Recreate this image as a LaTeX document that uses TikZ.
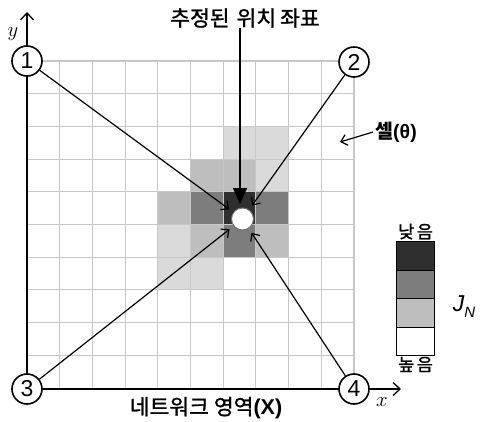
\documentclass[tikz,border=0pt]{standalone}
\usepackage{fontspec}
\newfontfamily\kr{Noto Sans CJK KR}
\newfontfamily\krm[FakeBold=1.2]{Noto Sans CJK KR}
\newfontfamily\arial{Liberation Sans}
\usetikzlibrary{arrows.meta}
\definecolor{gridc}{HTML}{C8C8C8}
\definecolor{shvd}{HTML}{2F2F2F}
\definecolor{shd}{HTML}{7D7D7D}
\definecolor{shm}{HTML}{BEBEBE}
\definecolor{shl}{HTML}{DADADA}
\newcommand\cellat[3]{\fill[#3] (27+#1*32.7, 61+#2*32.7) rectangle ++(32.7,32.7);}
\begin{document}
\begin{tikzpicture}[x=1pt,y=-1pt,
  gridln/.style={draw=gridc, line width=1.1pt},
  axisln/.style={line width=1.7pt, -{Straight Barb[length=7pt,width=13pt,line width=1.3pt]}},
  conn/.style={line width=1.2pt, -{Straight Barb[length=6pt,width=11pt,line width=1.2pt]}, shorten >=5pt},
  numc/.style={circle, draw, line width=1.6pt, fill=white, minimum size=30pt, inner sep=0pt, font=\arial\fontsize{23}{23}\selectfont},
  target/.style={circle, fill=white, draw=black!55, line width=1pt, minimum size=22pt, inner sep=0pt},
  legbox/.style={rectangle, draw=black, line width=1pt, minimum width=37.6pt, minimum height=28.5pt, inner sep=0pt},
  krtext/.style={font=\krm\fontsize{21.5}{23}\selectfont, inner sep=0pt},
  legtext/.style={font=\krm\fontsize{17.5}{19}\selectfont, inner sep=0pt},
  axlbl/.style={font=\fontsize{21}{21}\selectfont, inner sep=0pt}
]
\useasboundingbox (0,0) rectangle (481,422);
% shaded cells
\cellat{6}{2}{shl} \cellat{7}{2}{shl}
\cellat{5}{3}{shm} \cellat{6}{3}{shm} \cellat{7}{3}{shl}
\cellat{4}{4}{shm} \cellat{5}{4}{shd} \cellat{6}{4}{shvd} \cellat{7}{4}{shd}
\cellat{4}{5}{shl} \cellat{5}{5}{shm} \cellat{6}{5}{shd} \cellat{7}{5}{shm}
\cellat{4}{6}{shl} \cellat{5}{6}{shl}
% grid
\foreach \i in {1,...,10} {
  \draw[gridln] (27+\i*32.7, 61) -- (27+\i*32.7, 388);
  \draw[gridln] (27, 61+\i*32.7-32.7) -- (354, 61+\i*32.7-32.7);
}
% axes
\coordinate (o) at (27,389);
\coordinate (ytip) at (27,12);
\coordinate (xtip) at (401,389);
\draw[axisln] (o) -- (ytip);
\draw[axisln] (o) -- (xtip);
\node[axlbl] (ylab) at (13,34) {$y$};
\node[axlbl] (xlab) at (382,402) {$x$};
% nodes
\node[numc] (n1) at (27,61) {1};
\node[numc] (n2) at (354,62) {2};
\node[numc] (n3) at (27,389) {3};
\node[numc] (n4) at (354,389) {4};
\node[target] (t) at (242.5,219) {};
% labels
\node[krtext] (est) at (245,18) {추정된\hspace{7pt}위치\hspace{4pt}좌표};
\node[krtext] (net) at (206,408) {네트워크\hspace{5pt}영역{\arial\bfseries(X)}};
\node[krtext, font=\kr\bfseries\fontsize{19.5}{21}\selectfont] (cell) at (396,132) {셀{\arial\bfseries(θ)}};
% connectors
\draw[conn] (n1) -- (t);
\draw[conn] (n2) -- (t);
\draw[conn] (n3) -- (t);
\draw[conn] (n4) -- (t);
\coordinate (celltip) at (340,142);
\draw[line width=1.2pt, -{Straight Barb[length=6pt,width=11pt,line width=1.2pt]}] (cell.west) ++(-2,0) -- (celltip);
\coordinate (toptip) at (240,204);
\draw[line width=1.3pt, -{Triangle[length=16pt,width=14pt]}] (est.south -| toptip) -- (toptip);
% legend
\node[legbox, fill=shvd] (l1) at (415.5,256.2) {};
\node[legbox, fill=shd] (l2) at (415.5,284.7) {};
\node[legbox, fill=shm] (l3) at (415.5,313.2) {};
\node[legbox, fill=white] (l4) at (415.5,341.7) {};
\node[legtext] (low) at (415.5,231.5) {낮\hspace{2.5pt}음};
\node[legtext] (high) at (415.5,364.5) {높\hspace{2.5pt}음};
\node[inner sep=0pt, font=\arial\itshape\fontsize{23}{23}\selectfont] (jn) at (464,307) {J\raisebox{-6pt}{\fontsize{15}{15}\selectfont N}};
\end{tikzpicture}
\end{document}
